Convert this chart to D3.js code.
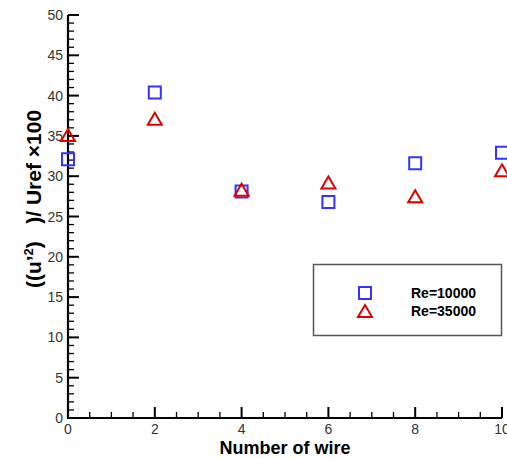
<!DOCTYPE html>
<html><head><meta charset="utf-8">
<script src="https://cdn.jsdelivr.net/npm/d3@7"></script>
<style>body{margin:0;background:#fff}svg{display:block}</style>
</head><body>
<script>
const wires = [0, 2, 4, 6, 8, 10];
const re10000 = [32.1, 40.4, 28.1, 26.8, 31.6, 32.9];
const re35000 = [35.0, 37.0, 28.2, 29.1, 27.4, 30.6];
const seriesNames = ["Re=10000", "Re=35000"];
const xTicks = [0, 2, 4, 6, 8, 10];
const yTicks = [0, 5, 10, 15, 20, 25, 30, 35, 40, 45, 50];

const W = 507, H = 459;
const svg = d3.select("body").append("svg").attr("width", W).attr("height", H);
const x = d3.scaleLinear().domain([0, 10]).range([68, 502]);
const y = d3.scaleLinear().domain([0, 50]).range([418, 15]);
const FONT = "Liberation Sans, Arial, sans-serif";

const g = svg.append("g");
g.selectAll(".ym").data(d3.range(0, 51, 1)).enter().append("line")
  .attr("x1", x(0)).attr("x2", d => x(0) + (d % 5 === 0 ? 11 : 6))
  .attr("y1", d => y(d)).attr("y2", d => y(d))
  .attr("stroke", "#000").attr("stroke-width", d => d % 5 === 0 ? 2 : 1.3);
g.selectAll(".xm").data(d3.range(0, 10.01, 0.5)).enter().append("line")
  .attr("y1", y(0)).attr("y2", d => y(0) - (Math.abs(d % 2) < 1e-6 ? 11 : 6))
  .attr("x1", d => x(d)).attr("x2", d => x(d))
  .attr("stroke", "#000").attr("stroke-width", d => Math.abs(d % 2) < 1e-6 ? 2 : 1.3);
g.append("line").attr("x1", x(0)).attr("x2", x(0)).attr("y1", y(0)+1).attr("y2", y(50))
  .attr("stroke", "#000").attr("stroke-width", 2.2);
g.append("line").attr("x1", x(0)-1).attr("x2", x(10)).attr("y1", y(0)).attr("y2", y(0))
  .attr("stroke", "#000").attr("stroke-width", 2.2);

g.selectAll(".yl").data(yTicks).enter().append("text")
  .attr("x", x(0) - 5).attr("y", d => y(d) + 5).attr("text-anchor", "end")
  .attr("font-family", FONT).attr("font-size", 14).attr("fill", "#333")
  .text(d => d);
g.selectAll(".xl").data(xTicks).enter().append("text")
  .attr("x", d => x(d)).attr("y", y(0) + 16).attr("text-anchor", "middle")
  .attr("font-family", FONT).attr("font-size", 14).attr("fill", "#333")
  .text(d => d);

svg.append("text").attr("x", 285).attr("y", 454).attr("text-anchor", "middle")
  .attr("font-family", FONT).attr("font-size", 18).attr("font-weight", "bold")
  .text("Number of wire");
const yt = svg.append("text").attr("transform", "translate(41,199) rotate(-90)").attr("text-anchor", "middle")
  .attr("font-family", FONT).attr("font-size", 21).attr("font-weight", "bold")
  .style("white-space", "pre");
yt.append("tspan").text("((u’");
yt.append("tspan").attr("font-size", 13).attr("dy", -8).text("2");
yt.append("tspan").attr("dy", 8).text(")   )/ Uref ×100");

const sq = (cx, cy) => `M${cx-6},${cy-6}h12v12h-12Z`;
const tri = (cx, cy) => `M${cx},${cy-7}L${cx+7},${cy+5}L${cx-7},${cy+5}Z`;
svg.append("g").selectAll("path").data(wires).enter().append("path")
  .attr("d", (d, i) => sq(x(d), y(re10000[i])))
  .attr("fill", "none").attr("stroke", "#3333ff").attr("stroke-width", 2);
svg.append("g").selectAll("path").data(wires).enter().append("path")
  .attr("d", (d, i) => tri(x(d), y(re35000[i])))
  .attr("fill", "none").attr("stroke", "#dd0000").attr("stroke-width", 2);

svg.append("rect").attr("x", 313.5).attr("y", 264.5).attr("width", 188).attr("height", 71)
  .attr("fill", "#fff").attr("stroke", "#555").attr("stroke-width", 1.5);
const lg = svg.append("g");
lg.append("path").attr("d", sq(365, 293)).attr("fill", "none").attr("stroke", "#3333ff").attr("stroke-width", 2);
lg.append("path").attr("d", tri(365, 312)).attr("fill", "none").attr("stroke", "#dd0000").attr("stroke-width", 2);
lg.selectAll("text").data(seriesNames).enter().append("text")
  .attr("x", 411).attr("y", (d, i) => 298 + i * 18)
  .attr("font-family", FONT).attr("font-size", 14).attr("font-weight", "bold")
  .text(d => d);
</script>
</body></html>
